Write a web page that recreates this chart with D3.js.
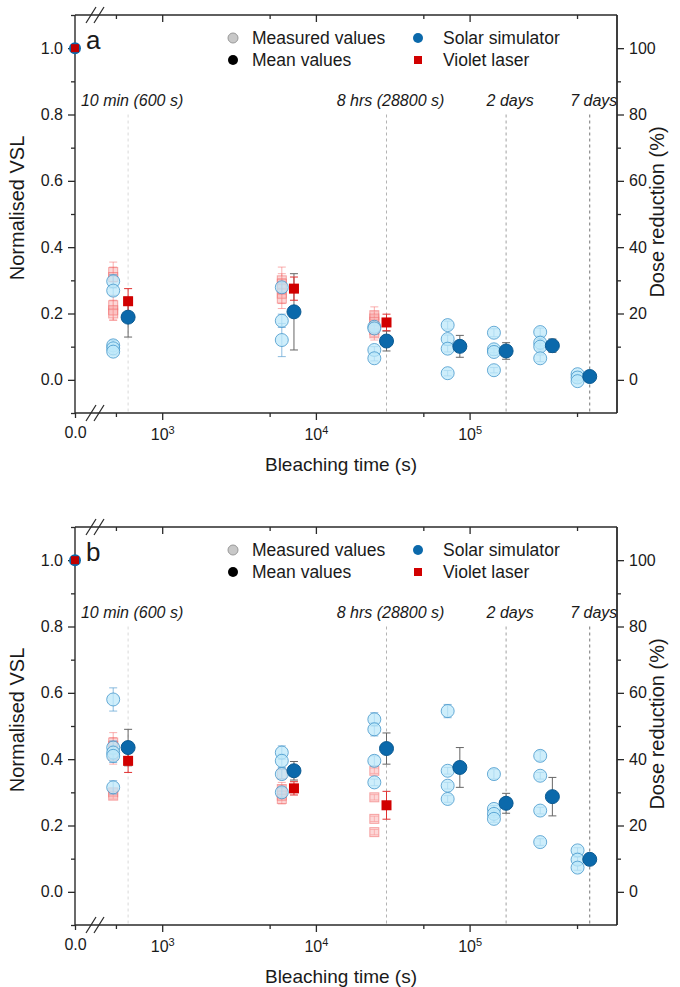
<!DOCTYPE html>
<html><head><meta charset="utf-8">
<script src="https://cdn.jsdelivr.net/npm/d3@7"></script>
<style>
body{margin:0;background:#fff}
svg{display:block}
text{font-family:"Liberation Sans",Arial,sans-serif;fill:#1a1a1a}
</style>
</head><body><svg id="c" width="680" height="987"></svg>
<script>
// ---------- DATA ----------
const meanTimes = [600, 7200, 28800, 86400, 172800, 345600, 604800];
const measuredTimes = [480, 6000, 24000, 72000, 144000, 288000, 504000];
const laserTimes = [600, 7200, 28800];
const laserMeasuredTimes = [480, 6000, 24000];
const zeroValue = 1.0;

const markerTimes = [600, 28800, 172800, 604800];
const markerLabels = ["10 min (600 s)", "8 hrs (28800 s)", "2 days", "7 days"];

const yTicks = [0, 0.2, 0.4, 0.6, 0.8, 1.0];
const yMinorTicks = [-0.1, 0.1, 0.3, 0.5, 0.7, 0.9, 1.1];
const doseTicks = [0, 20, 40, 60, 80, 100];
const doseMinorTicks = [10, 30, 50, 70, 90];
const xMajorTicks = [1e3, 1e4, 1e5];
const xMinorTicks = [500, 5000, 50000, 500000];

const legendLabels = ["Measured values", "Mean values", "Solar simulator", "Violet laser"];
const panelLetters = ["a", "b"];

// Panel a
const aSolarMeasured = [[0.297,0.269,0.104,0.095,0.085],[0.279,0.178,0.12],[0.16,0.155,0.09,0.065],[0.165,0.123,0.094,0.02],[0.142,0.092,0.084,0.029],[0.144,0.112,0.1,0.065],[0.017,0.007,-0.004]];
const aSolarMeasuredErr = [[0.02,0.015,0.015,0.01,0.01],[0.015,0.02,0.05],[0.01,0.01,0.01,0.008],[0.012,0.012,0.01,0.008],[0.012,0.01,0.01,0.008],[0.012,0.01,0.01,0.01],[0.008,0.008,0.006]];
const aSolarMean = [0.189, 0.205, 0.117, 0.101, 0.087, 0.103, 0.01];
const aSolarMeanErr = [0.06, 0.115, 0.03, 0.033, 0.025, 0.02, 0.005];
const aLaserMeasured = [[0.325,0.31,0.225,0.21,0.2],[0.30,0.29,0.275,0.26,0.245],[0.195,0.185,0.175,0.16,0.15,0.14]];
const aLaserMeasuredErr = [[0.03,0.03,0.03,0.03,0.02],[0.04,0.03,0.03,0.03,0.03],[0.025,0.02,0.02,0.02,0.02,0.02]];
const aLaserMean = [0.237, 0.275, 0.173];
const aLaserMeanErr = [0.038, 0.035, 0.025];

// Panel b
const bSolarMeasured = [[0.58,0.435,0.42,0.41,0.315],[0.42,0.395,0.355,0.30],[0.52,0.49,0.395,0.33],[0.545,0.365,0.32,0.28],[0.355,0.25,0.235,0.22],[0.41,0.35,0.245,0.15],[0.125,0.097,0.073]];
const bSolarMeasuredErr = [[0.035,0.02,0.02,0.02,0.02],[0.02,0.02,0.015,0.015],[0.02,0.02,0.015,0.01],[0.02,0.01,0.01,0.01],[0.015,0.01,0.01,0.01],[0.015,0.01,0.01,0.01],[0.008,0.008,0.008]];
const bSolarMean = [0.435, 0.365, 0.432, 0.375, 0.267, 0.287, 0.098];
const bSolarMeanErr = [0.055, 0.028, 0.047, 0.06, 0.03, 0.058, 0.005];
const bLaserMeasured = [[0.45,0.44,0.41,0.30,0.29],[0.355,0.31,0.30,0.29,0.28],[0.365,0.285,0.22,0.18]];
const bLaserMeasuredErr = [[0.03,0.025,0.025,0.01,0.01],[0.015,0.02,0.02,0.015,0.015],[0.008,0.008,0.008,0.008]];
const bLaserMean = [0.395, 0.312, 0.261];
const bLaserMeanErr = [0.035, 0.02, 0.042];

// ---------- DRAW ----------
const svg = d3.select('#c');
const C = {
  axis: '#2a2a2a',
  solar: '#0b69ab', solarStroke: '#0a5a92',
  laser: '#d10000',
  measFill: 'rgba(190,232,250,0.75)', measStroke: 'rgba(60,145,200,0.75)', measErr: 'rgba(90,160,210,0.7)',
  lmFill: 'rgba(250,175,175,0.5)', lmStroke: 'rgba(240,100,100,0.55)', lmErr: 'rgba(245,110,110,0.55)',
  meanErr: '#666', laserErr: '#e03030'
};
const markerColors = ['#d9d9d9', '#b3b3b3', '#a0a0a0', '#777'];

function flatten(times, vals, errs) {
  const out = [];
  vals.forEach((g, i) => g.forEach((v, j) => out.push({t: times[i], v, e: errs[i][j]})));
  return out;
}

function drawPanel(idx, off, sm, smE, sMean, sMeanE, lm, lmE, lMean, lMeanE) {
  const top = 15 + off, bottom = 413 + off, left = 75, right = 617;
  const g = svg.append('g');
  const y = d3.scaleLinear().domain([-0.1, 1.1]).range([bottom, top]);
  const yR = d3.scaleLinear().domain([-10, 110]).range([bottom, top]);
  const x = d3.scaleLog().domain([360, 9.1e5]).range([94, right]);
  const x0 = d3.scaleLinear().domain([0, 1]).range([left, left + 1]);

  // marker lines
  markerTimes.forEach((t, i) => {
    g.append('line').attr('x1', x(t)).attr('x2', x(t)).attr('y1', y(0.8)).attr('y2', bottom)
      .attr('stroke', markerColors[i]).attr('stroke-width', 1).attr('stroke-dasharray', '3,3');
    g.append('text').attr('x', x(t) + 4).attr('y', y(0.8) - 9).attr('text-anchor', 'middle')
      .attr('font-size', 16).attr('font-style', 'italic').text(markerLabels[i]);
  });

  // axes frame
  const fr = g.append('g').attr('stroke', C.axis).attr('stroke-width', 1.4).attr('fill', 'none');
  fr.append('line').attr('x1', left).attr('x2', left).attr('y1', top).attr('y2', bottom);
  fr.append('line').attr('x1', right).attr('x2', right).attr('y1', top).attr('y2', bottom).attr('stroke-width', 1.8);
  fr.append('line').attr('x1', left).attr('x2', right).attr('y1', top).attr('y2', top);
  fr.append('line').attr('x1', left).attr('x2', right).attr('y1', bottom).attr('y2', bottom);
  // break marks
  [top, bottom].forEach(yy => {
    [0, 8].forEach(dx => {
      fr.append('line').attr('x1', 86 + dx).attr('y1', yy + 8).attr('x2', 96 + dx).attr('y2', yy - 8).attr('stroke-width', 1.2);
    });
  });

  function styleAxis(sel) {
    sel.select('.domain').remove();
    sel.selectAll('line').attr('stroke', C.axis).attr('stroke-width', 1.3);
    sel.selectAll('text').attr('font-size', 16).attr('fill', '#1a1a1a').attr('font-family', '"Liberation Sans",Arial,sans-serif');
  }

  g.append('g').attr('transform', `translate(${left},0)`)
    .call(d3.axisLeft(y).tickValues(yTicks).tickFormat(d3.format('.1f')).tickSize(7).tickPadding(5)).call(styleAxis);
  g.append('g').attr('transform', `translate(${left},0)`)
    .call(d3.axisLeft(y).tickValues(yMinorTicks).tickFormat('').tickSize(4)).call(styleAxis);
  g.append('g').attr('transform', `translate(${right},0)`)
    .call(d3.axisRight(yR).tickValues(doseTicks).tickSize(7).tickPadding(5)).call(styleAxis);
  g.append('g').attr('transform', `translate(${right},0)`)
    .call(d3.axisRight(yR).tickValues(doseMinorTicks).tickFormat('').tickSize(4)).call(styleAxis);

  const bx = g.append('g').attr('transform', `translate(0,${bottom})`)
    .call(d3.axisBottom(x).tickValues(xMajorTicks).tickSize(7).tickPadding(9)).call(styleAxis);
  bx.selectAll('.tick text').each(function(d) {
    const t = d3.select(this); t.text('10');
    t.append('tspan').attr('dy', '-0.55em').attr('font-size', 11).text(Math.round(Math.log10(d)));
  });
  g.append('g').attr('transform', `translate(0,${bottom})`)
    .call(d3.axisBottom(x).tickValues(xMinorTicks).tickFormat('').tickSize(4)).call(styleAxis);
  g.append('g').attr('transform', `translate(0,${bottom})`)
    .call(d3.axisBottom(x0).tickValues([0]).tickFormat(d3.format('.1f')).tickSize(5).tickPadding(9)).call(styleAxis);
  g.append('g').attr('transform', `translate(0,${top})`)
    .call(d3.axisTop(x).tickValues(xMajorTicks).tickFormat('').tickSize(-7)).call(styleAxis);
  g.append('g').attr('transform', `translate(0,${top})`)
    .call(d3.axisTop(x).tickValues(xMinorTicks).tickFormat('').tickSize(-4)).call(styleAxis);

  // axis titles
  g.append('text').attr('x', (left + right) / 2 - 5).attr('y', bottom + 58).attr('text-anchor', 'middle')
    .attr('font-size', 19).text('Bleaching time (s)');
  g.append('text').attr('transform', `translate(24,${(top + bottom) / 2 - 6}) rotate(-90)`).attr('text-anchor', 'middle')
    .attr('font-size', 20).text('Normalised VSL');
  g.append('text').attr('transform', `translate(664,${(top + bottom) / 2 - 2}) rotate(-90)`).attr('text-anchor', 'middle')
    .attr('font-size', 20).text('Dose reduction (%)');

  // panel letter
  g.append('text').attr('x', 86).attr('y', top + 34).attr('font-size', 26).text(panelLetters[idx]);

  // legend
  const L = g.append('g');
  const ly1 = top + 23, ly2 = top + 45;
  L.append('circle').attr('cx', 233).attr('cy', ly1).attr('r', 5).attr('fill', '#c8c8c8').attr('stroke', '#999');
  L.append('circle').attr('cx', 233).attr('cy', ly2).attr('r', 5).attr('fill', '#000');
  L.append('circle').attr('cx', 418).attr('cy', ly1).attr('r', 5).attr('fill', C.solar);
  L.append('rect').attr('x', 414).attr('y', ly2 - 4).attr('width', 8).attr('height', 8).attr('fill', C.laser);
  [[252, ly1, 0], [252, ly2, 1], [443, ly1, 2], [443, ly2, 3]].forEach(([lx, ly, k]) => {
    L.append('text').attr('x', lx).attr('y', ly + 6).attr('font-size', 17.5).text(legendLabels[k]);
  });

  function errBars(sel, data, xf, color, cap) {
    sel.selectAll(null).data(data).enter().append('path')
      .attr('d', d => {
        const xx = xf(d.t), y1 = y(d.v - d.e), y2 = y(d.v + d.e);
        return `M${xx},${y1}V${y2}M${xx - cap},${y1}H${xx + cap}M${xx - cap},${y2}H${xx + cap}`;
      })
      .attr('stroke', color).attr('stroke-width', 1).attr('fill', 'none');
  }

  const lmData = flatten(laserMeasuredTimes, lm, lmE);
  const smData = flatten(measuredTimes, sm, smE);
  const sMeanData = meanTimes.map((t, i) => ({t, v: sMean[i], e: sMeanE[i]}));
  const lMeanData = laserTimes.map((t, i) => ({t, v: lMean[i], e: lMeanE[i]}));

  const P = g.append('g');
  errBars(P, lmData, x, C.lmErr, 4);
  P.selectAll(null).data(lmData).enter().append('rect')
    .attr('x', d => x(d.t) - 4.5).attr('y', d => y(d.v) - 4.5).attr('width', 9).attr('height', 9)
    .attr('fill', C.lmFill).attr('stroke', C.lmStroke);
  errBars(P, smData, x, C.measErr, 4);
  P.selectAll(null).data(smData).enter().append('circle')
    .attr('cx', d => x(d.t)).attr('cy', d => y(d.v)).attr('r', 6.5)
    .attr('fill', C.measFill).attr('stroke', C.measStroke);
  errBars(P, sMeanData, x, C.meanErr, 4);
  errBars(P, lMeanData, x, C.laserErr, 4);
  P.selectAll(null).data(sMeanData).enter().append('circle')
    .attr('cx', d => x(d.t)).attr('cy', d => y(d.v)).attr('r', 7)
    .attr('fill', C.solar).attr('stroke', C.solarStroke);
  P.selectAll(null).data(lMeanData).enter().append('rect')
    .attr('x', d => x(d.t) - 5).attr('y', d => y(d.v) - 5).attr('width', 10).attr('height', 10)
    .attr('fill', C.laser);

  P.append('circle').attr('cx', x0(0)).attr('cy', y(zeroValue)).attr('r', 6).attr('fill', C.solar);
  P.append('rect').attr('x', x0(0) - 4).attr('y', y(zeroValue) - 4).attr('width', 8).attr('height', 8).attr('fill', '#c00000');
}

drawPanel(0, 0, aSolarMeasured, aSolarMeasuredErr, aSolarMean, aSolarMeanErr, aLaserMeasured, aLaserMeasuredErr, aLaserMean, aLaserMeanErr);
drawPanel(1, 512, bSolarMeasured, bSolarMeasuredErr, bSolarMean, bSolarMeanErr, bLaserMeasured, bLaserMeasuredErr, bLaserMean, bLaserMeanErr);
</script>
</body></html>
